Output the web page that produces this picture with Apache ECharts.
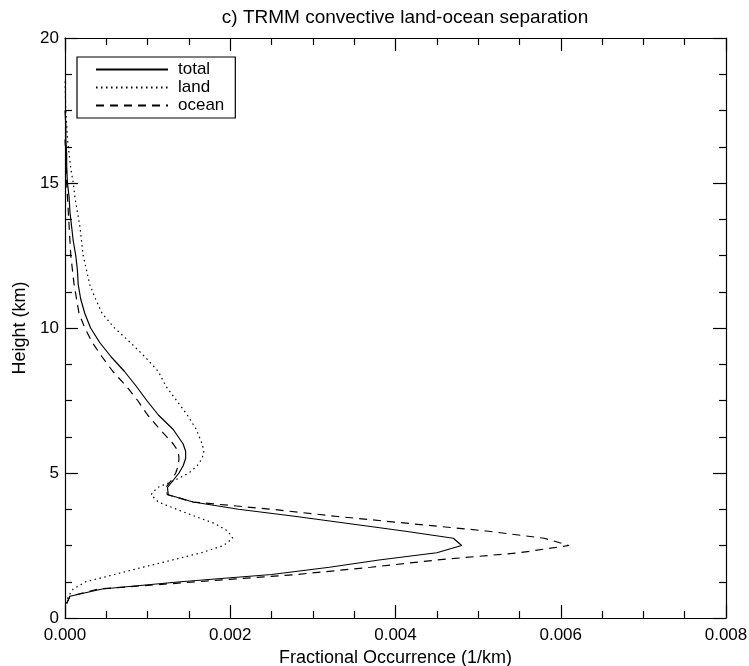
<!DOCTYPE html>
<html>
<head>
<meta charset="utf-8">
<script src="https://cdn.jsdelivr.net/npm/echarts@6/dist/echarts.min.js"></script>
<style>
  html, body { margin: 0; padding: 0; background: #fff; }
  #chart { width: 749px; height: 666px; }
</style>
</head>
<body>
<div id="chart"></div>
<script>
// Height levels (km) shared by the three profiles
const heights = [0.5, 0.75, 1.0, 1.25, 1.5, 1.75, 2.0, 2.25, 2.5, 2.75, 3.0, 3.25, 3.5, 3.75,
  4.0, 4.25, 4.5, 4.75, 5.0, 5.25, 5.5, 5.75, 6.0, 6.5, 7.0, 7.5, 8.0, 8.5, 9.0, 9.5,
  10.0, 10.5, 11.0, 11.5, 12.0, 12.5, 13.0, 13.5, 14.0, 14.5, 15.0, 15.5, 16.0, 16.5,
  17.0, 17.5, 18.0, 18.5];

// Fractional occurrence (1/km) at each height
const total = [0.00002, 0.00006, 0.00045, 0.0014, 0.0025, 0.0032, 0.0038, 0.0045, 0.0048, 0.0047,
  0.0041, 0.00345, 0.0028, 0.0021, 0.00155, 0.00125, 0.00124, 0.00131, 0.00138, 0.00143,
  0.00146, 0.00146, 0.00143, 0.00131, 0.00113, 0.00099, 0.00086, 0.00072, 0.00056, 0.00042,
  0.00031, 0.00024, 0.00019, 0.00016, 0.00015, 0.00013, 0.0001, 0.00008, 0.00006, 0.00005,
  0.00003, 0.00002, 0.00002, 0.00001, 0.00001, 0.0, null, null];

const land = [0.00001, 0.00004, 0.0001, 0.00025, 0.0006, 0.00094, 0.0013, 0.00165, 0.00192, 0.00203,
  0.00197, 0.00182, 0.00158, 0.00135, 0.00113, 0.00104, 0.00112, 0.00133, 0.0015, 0.0016,
  0.00166, 0.00168, 0.00166, 0.00159, 0.00148, 0.00135, 0.00122, 0.00113, 0.00097, 0.00079,
  0.0006, 0.00045, 0.00037, 0.0003, 0.00026, 0.00022, 0.0002, 0.00018, 0.00015, 0.00012,
  0.0001, 0.00007, 0.00005, 0.00003, 0.00002, 0.00001, 0.000005, 0.0];

const ocean = [0.00002, 0.00006, 0.0004, 0.0016, 0.0028, 0.0037, 0.0045, 0.0055, 0.0061, 0.0058,
  0.0051, 0.0042, 0.0033, 0.0025, 0.00155, 0.00124, 0.00122, 0.00129, 0.00134, 0.00137,
  0.00138, 0.00137, 0.00131, 0.00115, 0.001, 0.00088, 0.00074, 0.00058, 0.00045, 0.00033,
  0.00024, 0.00017, 0.00014, 0.00011, 0.00009, 0.00007, 0.00006, 0.00005, 0.00004, 0.00003,
  0.00002, 0.00002, 0.00001, 0.0, null, null, null, null];

const xTicks = [0, 0.002, 0.004, 0.006, 0.008];
const yTicks = [0, 5, 10, 15, 20];

function pairs(values) {
  const out = [];
  values.forEach((v, i) => { if (v !== null) out.push([v, heights[i]]); });
  return out;
}

const FONT = 'Liberation Sans';
const ink = '#000';

function frameAxis(base) {
  return Object.assign({
    axisLine: { show: true, onZero: false, lineStyle: { color: ink, width: 1.2 } },
    axisTick: { show: true, inside: true, length: 13, lineStyle: { color: ink, width: 1.2 } },
    minorTick: { show: true, splitNumber: 4, length: 7, lineStyle: { color: ink, width: 1.2 } },
    splitLine: { show: false },
    minorSplitLine: { show: false }
  }, base);
}

const chart = echarts.init(document.getElementById('chart'), null, { renderer: 'canvas' });

chart.setOption({
  animation: false,
  backgroundColor: '#fff',
  textStyle: { fontFamily: FONT, color: ink },
  title: {
    text: 'c) TRMM convective land-ocean separation',
    left: 400, top: 3, textAlign: 'center',
    textStyle: { fontFamily: FONT, fontSize: 19, fontWeight: 'normal', color: ink }
  },
  grid: { left: 65, right: 23, top: 38, bottom: 48, outerBoundsMode: 'none', containLabel: false },
  legend: {
    orient: 'vertical',
    left: 77, top: 57,
    padding: [4, 11, 4, 18],
    itemGap: 1,
    itemWidth: 72, itemHeight: 14,
    borderColor: ink, borderWidth: 1.2,
    itemStyle: { opacity: 0 },
    textStyle: { fontFamily: FONT, fontSize: 17, color: ink, padding: [0, 0, 0, 5] },
    data: ['total', 'land', 'ocean']
  },
  xAxis: [
    frameAxis({
      type: 'value', position: 'bottom', min: xTicks[0], max: xTicks[xTicks.length - 1], interval: 0.002,
      axisLabel: { fontFamily: FONT, fontSize: 17, color: ink, margin: 9,
        formatter: v => v.toFixed(3) },
      name: 'Fractional Occurrence (1/km)', nameLocation: 'middle', nameGap: 29,
      nameTextStyle: { fontFamily: FONT, fontSize: 18, color: ink }
    }),
    frameAxis({
      type: 'value', position: 'top', min: xTicks[0], max: xTicks[xTicks.length - 1], interval: 0.002,
      axisLabel: { show: false }
    })
  ],
  yAxis: [
    frameAxis({
      type: 'value', position: 'left', min: yTicks[0], max: yTicks[yTicks.length - 1], interval: 5,
      axisLabel: { fontFamily: FONT, fontSize: 17, color: ink, margin: 6 },
      name: 'Height (km)', nameLocation: 'middle', nameGap: 36,
      nameTextStyle: { fontFamily: FONT, fontSize: 18, color: ink }
    }),
    frameAxis({
      type: 'value', position: 'right', min: yTicks[0], max: yTicks[yTicks.length - 1], interval: 5,
      axisLabel: { show: false }
    })
  ],
  series: [
    {
      name: 'total', type: 'line', data: pairs(total), showSymbol: false, symbol: 'none',
      lineStyle: { color: ink, width: 1.2, type: 'solid' }, itemStyle: { color: ink }
    },
    {
      name: 'land', type: 'line', data: pairs(land), showSymbol: false, symbol: 'none',
      lineStyle: { color: ink, width: 1.2, type: [1.5, 3.5] }, itemStyle: { color: ink }
    },
    {
      name: 'ocean', type: 'line', data: pairs(ocean), showSymbol: false, symbol: 'none',
      lineStyle: { color: ink, width: 1.2, type: [8, 6] }, itemStyle: { color: ink }
    }
  ]
});
</script>
</body>
</html>
